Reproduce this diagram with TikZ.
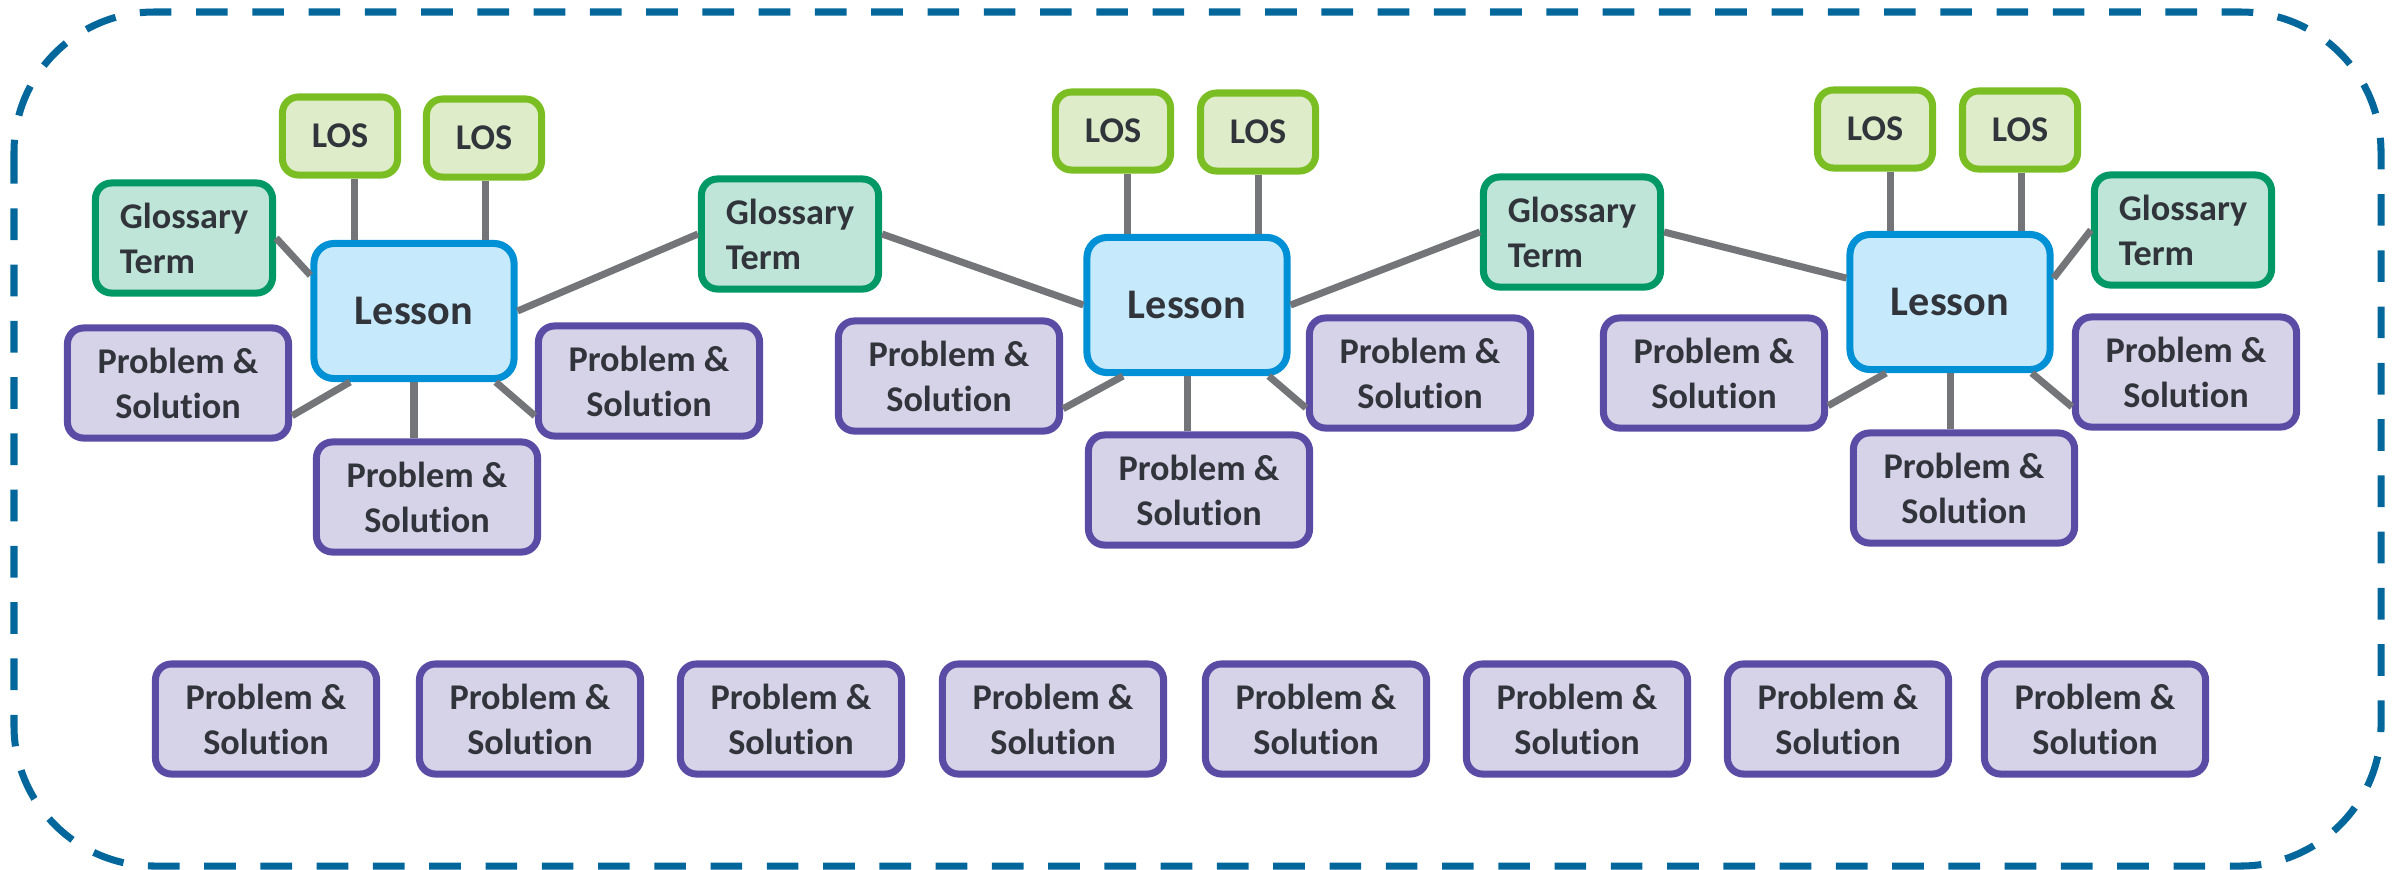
\documentclass[tikz,border=0pt]{standalone}
\usepackage{fontspec}
\setmainfont[Ligatures=NoCommon]{Carlito}

\definecolor{frameblue}{RGB}{4,103,156}
\definecolor{inktext}{RGB}{49,53,59}
\definecolor{linkgray}{RGB}{115,117,121}
\definecolor{lessonline}{RGB}{0,144,214}
\definecolor{lessonfill}{RGB}{198,234,252}
\definecolor{losline}{RGB}{122,190,36}
\definecolor{losfill}{RGB}{222,236,201}
\definecolor{glossline}{RGB}{0,152,100}
\definecolor{glossfill}{RGB}{190,229,215}
\definecolor{probline}{RGB}{90,75,165}
\definecolor{probfill}{RGB}{214,210,232}

\begin{document}
\begin{tikzpicture}[
          x=0.01cm, y=-0.01cm,
          box/.style = {draw, rectangle, rounded corners=0.16cm, line width=2pt, align=center, inner sep=0pt, text=inktext, font=\bfseries\fontsize{10.3}{12.8}\selectfont},
          lesson/.style = {box, draw=lessonline, fill=lessonfill, rounded corners=0.2cm, minimum width=2cm, minimum height=1.35cm, font=\bfseries\fontsize{12}{14}\selectfont},
          los/.style = {box, draw=losline, fill=losfill, minimum width=1.15cm, minimum height=0.78cm},
          gloss/.style = {box, draw=glossline, fill=glossfill, align=left, minimum width=1.77cm, minimum height=1.1cm},
          prob/.style = {box, draw=probline, fill=probfill, minimum width=2.21cm, minimum height=1.1cm},
          link/.style = {draw=linkgray, line width=2pt},
          frame/.style = {draw=frameblue, line width=2pt, dash pattern=on 9pt off 7pt, rounded corners=1.4cm}
        ]

        \useasboundingbox (0,0) rectangle (2400,869);
        \draw[frame] (14,12) rectangle (2381,866);

        \node[lesson] (lessonA) at (414,311) {Lesson};
        \node[los] (losA1) at (340,136) {LOS};
        \node[los] (losA2) at (484,138) {LOS};
        \node[gloss] (glossA) at (184,238) {Glossary\\Term};
        \node[prob] (probA1) at (178,383) {Problem \&\\Solution};
        \node[prob] (probA2) at (649,381) {Problem \&\\Solution};
        \node[prob] (probA3) at (427,497) {Problem \&\\Solution};

        \node[gloss] (glossB) at (790,234) {Glossary\\Term};

        \node[lesson] (lessonB) at (1187,305) {Lesson};
        \node[los] (losB1) at (1113,131) {LOS};
        \node[los] (losB2) at (1258,132) {LOS};
        \node[prob] (probB1) at (949,376) {Problem \&\\Solution};
        \node[prob] (probB2) at (1420,373) {Problem \&\\Solution};
        \node[prob] (probB3) at (1199,490) {Problem \&\\Solution};

        \node[gloss] (glossC) at (1572,232) {Glossary\\Term};

        \node[lesson] (lessonC) at (1950,302) {Lesson};
        \node[los] (losC1) at (1875,129) {LOS};
        \node[los] (losC2) at (2020,130) {LOS};
        \node[gloss] (glossD) at (2183,230) {Glossary\\Term};
        \node[prob] (probC1) at (1714,373) {Problem \&\\Solution};
        \node[prob] (probC2) at (2186,372) {Problem \&\\Solution};
        \node[prob] (probC3) at (1964,488) {Problem \&\\Solution};

        \node[prob] (probD1) at (266,719) {Problem \&\\Solution};
        \node[prob] (probD2) at (530,719) {Problem \&\\Solution};
        \node[prob] (probD3) at (791,719) {Problem \&\\Solution};
        \node[prob] (probD4) at (1053,719) {Problem \&\\Solution};
        \node[prob] (probD5) at (1316,719) {Problem \&\\Solution};
        \node[prob] (probD6) at (1577,719) {Problem \&\\Solution};
        \node[prob] (probD7) at (1838,719) {Problem \&\\Solution};
        \node[prob] (probD8) at (2095,719) {Problem \&\\Solution};

        \draw[link] (lessonA.130) -- (lessonA.130 |- losA1.south);
        \draw[link] (lessonA.45) -- (lessonA.45 |- losA2.south);
        \draw[link] (glossA.east) -- (lessonA.161);
        \draw[link] (lessonA.east) -- (glossB.west);
        \draw[link] (lessonA.228) -- (probA1.344);
        \draw[link] (lessonA.south) -- (lessonA.south |- probA3.north);
        \draw[link] (lessonA.319) -- (probA2.197);

        \draw[link] (lessonB.130) -- (lessonB.130 |- losB1.south);
        \draw[link] (lessonB.45) -- (lessonB.45 |- losB2.south);
        \draw[link] (glossB.east) -- (lessonB.west);
        \draw[link] (lessonB.east) -- (glossC.west);
        \draw[link] (lessonB.228) -- (probB1.344);
        \draw[link] (lessonB.south) -- (lessonB.south |- probB3.north);
        \draw[link] (lessonB.319) -- (probB2.197);

        \draw[link] (lessonC.130) -- (lessonC.130 |- losC1.south);
        \draw[link] (lessonC.45) -- (lessonC.45 |- losC2.south);
        \draw[link] (glossC.east) -- (lessonC.167);
        \draw[link] (lessonC.13) -- (glossD.west);
        \draw[link] (lessonC.228) -- (probC1.344);
        \draw[link] (lessonC.south) -- (lessonC.south |- probC3.north);
        \draw[link] (lessonC.319) -- (probC2.197);
      \end{tikzpicture}
\end{document}
